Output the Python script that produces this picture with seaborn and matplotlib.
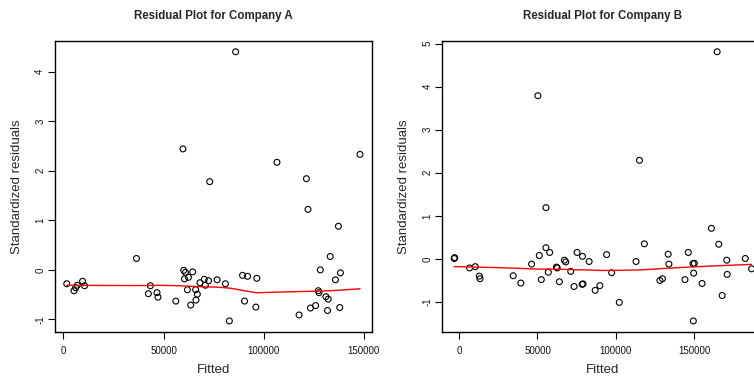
import numpy as np
import pandas as pd
import matplotlib
matplotlib.use("Agg")
import matplotlib.pyplot as plt
import seaborn as sns

# Company A: fitted values and standardized residuals
fitted_a = [1630, 5250, 6090, 6930, 9550, 10540, 36440, 42380, 43370, 46690,
            47180, 56090, 59650, 60050, 60890, 60400, 62380, 61880, 63510, 64500,
            66000, 66830, 66140, 68120, 70300, 70800, 72430, 73000, 76700, 80840,
            82820, 85940, 89400, 90400, 91880, 96040, 96530, 106580, 117620, 121290,
            122080, 123270, 125890, 127230, 127550, 128220, 131000, 131830, 132180, 133170,
            135790, 137280, 137920, 138270, 148020]
resid_a = [-0.28, -0.42, -0.36, -0.31, -0.23, -0.32, 0.23, -0.48, -0.32, -0.46,
           -0.55, -0.63, 2.44, -0.01, -0.05, -0.18, -0.15, -0.40, -0.71, -0.04,
           -0.40, -0.49, -0.61, -0.26, -0.19, -0.31, -0.22, 1.78, -0.20, -0.28,
           -1.03, 4.40, -0.11, -0.63, -0.13, -0.75, -0.17, 2.17, -0.91, 1.84,
           1.22, -0.77, -0.72, -0.42, -0.46, 0.00, -0.54, -0.82, -0.59, 0.27,
           -0.20, 0.88, -0.76, -0.06, 2.33]

# Company B: fitted values and standardized residuals
fitted_b = [-3210, -2900, 6610, 10270, 12840, 13290, 34470, 39350, 46210, 50260,
            51160, 52440, 55400, 55400, 56930, 57770, 62100, 62600, 63990, 67200,
            68060, 71240, 73360, 75290, 78500, 79100, 78750, 82990, 86840, 89860,
            94160, 97370, 102250, 112960, 115150, 118290, 128170, 129840, 133500, 133950,
            144220, 146340, 149350, 150180, 149740, 149550, 155130, 161100, 164760, 165790,
            167970, 170920, 171180, 182730, 186780]
resid_b = [0.01, 0.03, -0.21, -0.18, -0.40, -0.46, -0.39, -0.56, -0.12, 3.79,
           0.08, -0.48, 0.26, 1.19, -0.31, 0.15, -0.19, -0.21, -0.53, -0.03,
           -0.07, -0.29, -0.64, 0.15, -0.59, -0.58, 0.06, -0.06, -0.73, -0.62,
           0.10, -0.32, -1.01, -0.06, 2.29, 0.35, -0.50, -0.46, 0.11, -0.12,
           -0.48, 0.15, -0.11, -0.10, -0.33, -1.44, -0.57, 0.71, 4.81, 0.34,
           -0.85, -0.03, -0.36, 0.01, -0.23]

titles = ["Residual Plot for Company A", "Residual Plot for Company B"]
x_ticks = [0, 50000, 100000, 150000, 200000]
y_ticks_a = [-1, 0, 1, 2, 3, 4]
y_ticks_b = [-1, 0, 1, 2, 3, 4, 5]


def lowess(x, y, f=2 / 3, iters=3):
    """Locally weighted linear smoother with robustness iterations."""
    order = np.argsort(x, kind="stable")
    x = np.asarray(x, float)[order]
    y = np.asarray(y, float)[order]
    n = len(x)
    k = max(min(int(f * n + 1e-7), n), 2)
    rw = np.ones(n)
    fit = np.zeros(n)
    for it in range(iters + 1):
        for i in range(n):
            d = np.abs(x - x[i])
            h = max(np.sort(d)[k - 1], 1e-12)
            w = np.clip(1 - (d / h) ** 3, 0, None) ** 3
            w = w * rw
            sw = w.sum()
            if sw <= 0:
                fit[i] = y[i]
                continue
            xm = (w * x).sum() / sw
            ym = (w * y).sum() / sw
            sxx = (w * (x - xm) ** 2).sum()
            if sxx > 1e-12 * (x.max() - x.min()) ** 2:
                b = (w * (x - xm) * (y - ym)).sum() / sxx
            else:
                b = 0.0
            fit[i] = ym + b * (x[i] - xm)
        if it == iters:
            break
        res = y - fit
        s = np.median(np.abs(res))
        if s == 0:
            break
        u = res / (6 * s)
        rw = np.where(np.abs(u) < 1, (1 - u ** 2) ** 2, 0.0)
    return x, fit


sns.set_style("ticks")
plt.rcParams["font.family"] = ["Liberation Sans", "DejaVu Sans"]
plt.rcParams["axes.unicode_minus"] = False

fig = plt.figure(figsize=(7.54, 3.76), dpi=100)
ax_a = fig.add_axes([55 / 754, 1 - 331.7 / 376, 316.7 / 754, 290.7 / 376])
ax_b = fig.add_axes([442.3 / 754, 1 - 331.7 / 376, 321.2 / 754, 290.7 / 376])

panels = [
    (ax_a, fitted_a, resid_a, y_ticks_a, titles[0]),
    (ax_b, fitted_b, resid_b, y_ticks_b, titles[1]),
]

for ax, fx, ry, yt, title in panels:
    df = pd.DataFrame({"Fitted": fx, "Standardized residuals": ry})
    sns.scatterplot(data=df, x="Fitted", y="Standardized residuals", ax=ax,
                    marker="o", s=18, facecolor="none", edgecolor="black",
                    linewidth=0.8, legend=False)
    sx, sy = lowess(fx, ry)
    ax.plot(sx, sy, color="red", lw=1.0)

    ax.set_xticks(x_ticks)
    ax.set_xticklabels([str(t) for t in x_ticks])
    ax.set_yticks(yt)
    ax.set_yticklabels([str(t) for t in yt], rotation=90, va="center")
    # R-style 4% padding around the data range
    xr = max(fx) - min(fx)
    yr = max(ry) - min(ry)
    ax.set_xlim(min(fx) - 0.04 * xr, max(fx) + 0.04 * xr)
    ax.set_ylim(min(ry) - 0.04 * yr, max(ry) + 0.04 * yr)
    ax.tick_params(axis="both", direction="out", length=5, width=0.8,
                   labelsize=7, color="black", labelcolor="#111111")
    ax.tick_params(axis="x", pad=5)
    ax.tick_params(axis="y", pad=2)
    for sp in ax.spines.values():
        sp.set_visible(True)
        sp.set_color("black")
        sp.set_linewidth(1.0)
    ax.set_xlabel("Fitted", fontsize=9.5, labelpad=6)
    ax.set_ylabel("Standardized residuals", fontsize=9.5, labelpad=9)
    ax.set_title(title, fontsize=8.3, fontweight="bold", pad=16)

fig.savefig("out.png", dpi=100)
